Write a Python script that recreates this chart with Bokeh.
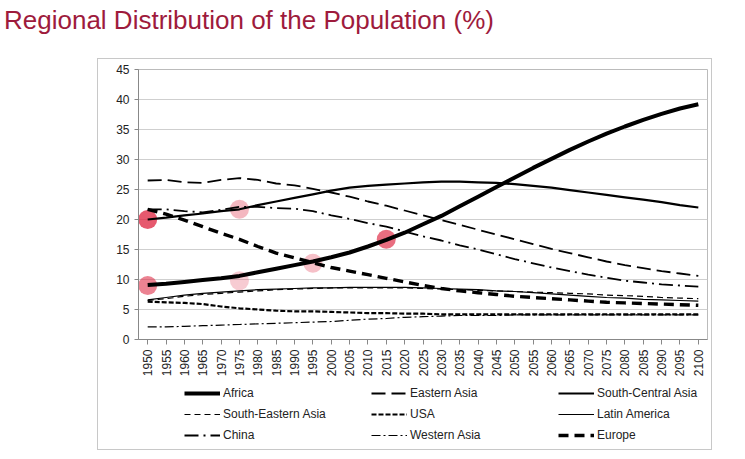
from bokeh.plotting import figure
from bokeh.models import Div, Legend, LegendItem, FixedTicker, Range1d
from bokeh.layouts import column
from bokeh.embed import file_html
from bokeh.resources import INLINE

years = list(range(1950, 2101, 5))
africa = [9.1,9.3,9.6,9.9,10.2,10.6,11.2,11.8,12.4,13.0,13.7,14.5,15.5,16.6,17.8,19.2,20.6,22.2,23.8,25.4,27.0,28.6,30.1,31.6,33.0,34.3,35.5,36.6,37.6,38.5,39.2]
eastern_asia = [26.5,26.6,26.2,26.1,26.6,26.9,26.6,26.0,25.7,25.1,24.5,23.8,23.0,22.3,21.5,20.7,19.9,19.1,18.3,17.5,16.7,15.9,15.1,14.4,13.7,13.0,12.4,11.9,11.4,11.0,10.6]
south_central_asia = [20.0,20.3,20.7,21.0,21.4,21.7,22.4,23.0,23.6,24.2,24.8,25.3,25.6,25.8,26.0,26.2,26.3,26.3,26.2,26.1,25.9,25.6,25.3,24.9,24.5,24.1,23.7,23.3,22.9,22.4,22.0]
south_eastern_asia = [6.5,6.8,7.2,7.5,7.7,7.9,8.1,8.3,8.4,8.5,8.6,8.6,8.6,8.6,8.6,8.5,8.4,8.3,8.2,8.1,8.0,7.9,7.8,7.7,7.6,7.4,7.3,7.2,7.0,6.9,6.8]
usa = [6.3,6.2,6.1,5.9,5.5,5.2,5.0,4.8,4.7,4.7,4.6,4.5,4.4,4.4,4.3,4.3,4.2,4.2,4.2,4.2,4.2,4.2,4.2,4.2,4.2,4.2,4.2,4.2,4.2,4.2,4.2]
latin_america = [6.6,7.0,7.4,7.7,7.9,8.1,8.3,8.4,8.5,8.6,8.6,8.7,8.7,8.7,8.7,8.6,8.5,8.4,8.3,8.1,8.0,7.8,7.6,7.4,7.2,7.0,6.9,6.7,6.6,6.5,6.4]
china = [21.7,21.7,21.4,21.2,21.6,22.1,22.1,21.9,21.8,21.4,20.7,20.1,19.4,18.8,18.0,17.2,16.5,15.7,15.0,14.2,13.4,12.7,12.0,11.4,10.8,10.3,9.8,9.5,9.2,9.0,8.8]
western_asia = [2.1,2.1,2.2,2.3,2.4,2.5,2.6,2.7,2.8,2.9,3.0,3.2,3.4,3.5,3.7,3.8,3.9,4.0,4.0,4.0,4.1,4.1,4.1,4.1,4.1,4.1,4.1,4.1,4.1,4.1,4.1]
europe = [21.7,20.9,19.9,18.8,17.7,16.7,15.5,14.4,13.6,12.8,12.0,11.4,10.8,10.2,9.6,9.0,8.5,8.1,7.8,7.5,7.2,7.0,6.8,6.6,6.4,6.2,6.1,6.0,5.9,5.8,5.7]

hl_x = [1950, 1950, 1975, 1975, 1995, 2015]
hl_y = [20.0, 9.0, 21.7, 9.8, 12.7, 16.7]
hl_alpha = [0.8, 0.6, 0.35, 0.25, 0.3, 0.7]

series = [
    ("Africa", africa, 4, "solid"),
    ("Eastern Asia", eastern_asia, 1.8, "14 6"),
    ("South-Central Asia", south_central_asia, 2.2, "solid"),
    ("South-Eastern Asia", south_eastern_asia, 1.2, "6 4"),
    ("USA", usa, 2.2, "5 2"),
    ("Latin America", latin_america, 1.2, "solid"),
    ("China", china, 1.8, "14 5 2 5"),
    ("Western Asia", western_asia, 1.2, "9 3 2 3"),
    ("Europe", europe, 3.4, "10 6"),
]

title = Div(text="Regional Distribution of the Population (%)",
            styles={"font-family": "Arial, 'Liberation Sans'", "font-size": "26px",
                    "color": "#9e1b3c", "white-space": "nowrap"},
            width=700, height=48, margin=(2, 0, 8, 4))

p = figure(width=613, height=320, output_backend="svg", toolbar_location=None,
           x_range=Range1d(1947.5, 2102.5), y_range=Range1d(0, 45),
           min_border_left=40, min_border_right=4, min_border_top=10, min_border_bottom=36,
           margin=0)
p.outline_line_color = "#bbbbbb"
p.xgrid.visible = False
p.ygrid.grid_line_color = "#cfcfcf"
p.yaxis.ticker = FixedTicker(ticks=list(range(0, 46, 5)))
p.xaxis.ticker = FixedTicker(ticks=years)
p.xaxis.major_label_orientation = 1.5708
for ax in (p.xaxis, p.yaxis):
    ax.major_label_text_font = "Liberation Sans"
    ax.major_label_text_font_size = "12px"
    ax.major_label_text_color = "#222222"
    ax.axis_line_color = "#888888"
    ax.major_tick_line_color = "#888888"
    ax.minor_tick_line_color = None
p.xaxis.major_tick_in = 0
p.xaxis.major_tick_out = 5
p.yaxis.major_tick_out = 4
p.yaxis.major_tick_in = 0

p.scatter(hl_x, hl_y, size=19, fill_color="#e0304a", fill_alpha=hl_alpha, line_color=None)

# legend-only figure: same series, drawn off its visible range
lf = figure(width=613, height=70, output_backend="svg", toolbar_location=None,
            x_range=Range1d(0, 1), y_range=Range1d(-100, -99), min_border=0, margin=0)
lf.axis.visible = False
lf.grid.visible = False
lf.outline_line_color = None

items = []
for name, ys, w, dash in series:
    p.line(years, ys, line_color="black", line_width=w, line_dash=dash)
    r = lf.line(years, ys, line_color="black", line_width=w, line_dash=dash)
    items.append(LegendItem(label=name, renderers=[r]))

leg = Legend(items=items, orientation="horizontal", nrows=3, border_line_color=None,
             background_fill_alpha=0, label_text_font="Liberation Sans",
             label_text_font_size="12px", glyph_width=36, label_width=143, spacing=5,
             padding=0, margin=0, label_height=16, glyph_height=16, location=(46, 6),
             label_standoff=3)
leg.label_text_color = "#222222"
lf.add_layout(leg, "center")

box = column(p, lf, spacing=0, margin=(0, 0, 0, 97),
             styles={"border": "1px solid #c8c8c8"})
open("out.html", "w").write(file_html(column(title, box, spacing=0), INLINE))
